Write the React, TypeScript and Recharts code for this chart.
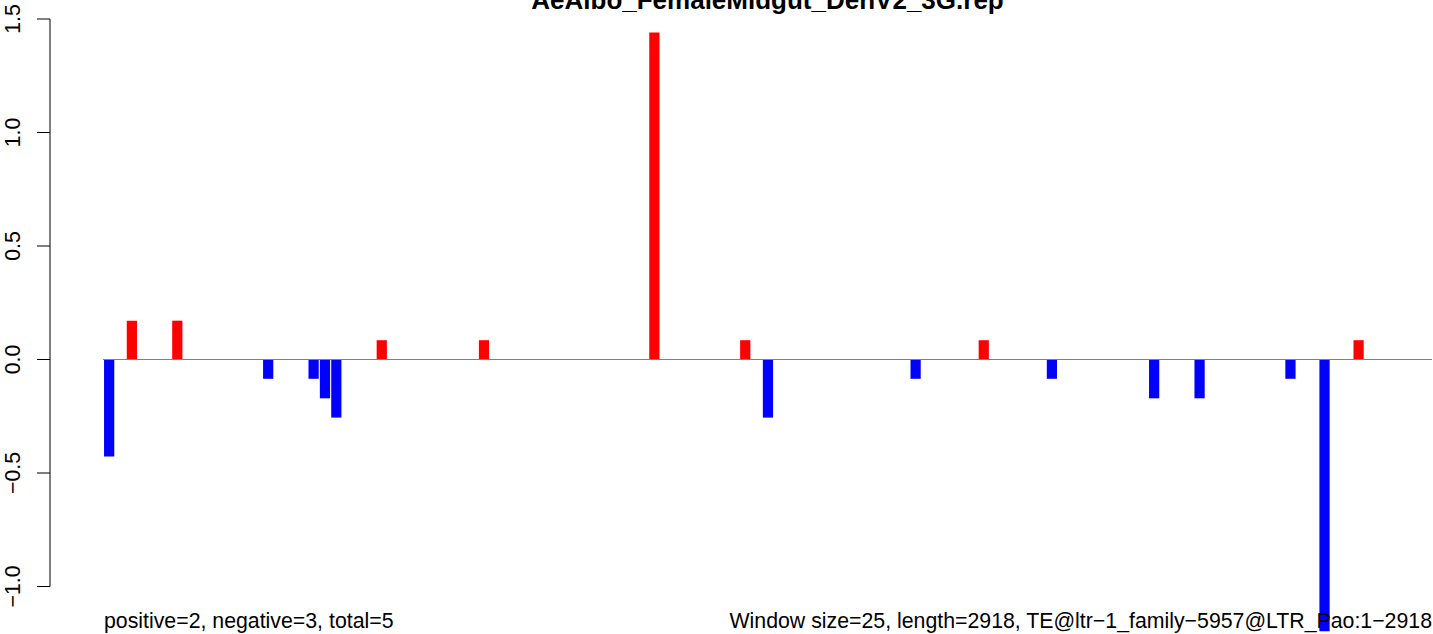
import { BarChart, Bar, XAxis, YAxis, ReferenceLine, Cell } from "recharts";

// sliding-window counts, 25bp windows over a 2918bp TE
const TITLE = "AeAlbo_FemaleMidgut_DenV2_3G.rep";
const NOTE_LEFT = "positive=2, negative=3, total=5";
const NOTE_RIGHT = "Window size=25, length=2918, TE@ltr\u22121_family\u22125957@LTR_Pao:1\u22122918";

const WINDOW_BINS = [0, 2, 6, 14, 18, 19, 20, 24, 33, 48, 56, 58, 71, 77, 83, 92, 96, 104, 107, 110];
const WINDOW_VALUES = [
  -0.427, 0.171, 0.171, -0.085, -0.085, -0.171, -0.256, 0.085, 0.085, 1.44,
  0.085, -0.256, -0.085, 0.085, -0.085, -0.171, -0.171, -0.085, -1.197, 0.085,
];
const Y_TICKS = [-1, -0.5, 0, 0.5, 1, 1.5];

const W = 1433;
const H = 634;
const X_DOMAIN: [number, number] = [-5.17, 116.5];
const Y_DOMAIN: [number, number] = [-1.2, 1.55];
const FONT = "'Liberation Sans', Arial, Helvetica, sans-serif";

const fmt = (v: number) => v.toFixed(1).replace("-", "\u2212");

const renderTick = (props: any) => {
  const { x, y, payload } = props;
  return (
    <text
      x={0}
      y={0}
      transform={`translate(${x - 15},${y}) rotate(-90)`}
      textAnchor="middle"
      fontSize={21.3}
      fontFamily={FONT}
      fill="#000"
    >
      {fmt(payload.value)}
    </text>
  );
};

export default function App() {
  const data = WINDOW_BINS.map((bin, i) => ({ bin, value: WINDOW_VALUES[i] }));

  return (
    <div style={{ position: "absolute", left: 0, top: 0, width: W, height: H, background: "#fff" }}>
      <BarChart
        width={W}
        height={H}
        data={data}
        margin={{ top: 7.65, right: 1, bottom: 2.1, left: 0 }}
        barSize={12}
      >
        <XAxis type="number" dataKey="bin" domain={X_DOMAIN} hide allowDataOverflow />
        <YAxis
          type="number"
          domain={Y_DOMAIN}
          ticks={Y_TICKS}
          interval={0}
          width={50}
          axisLine={false}
          tickSize={13}
          tickLine={{ stroke: "#000" }}
          tick={renderTick}
          allowDataOverflow
        />
        <Bar dataKey="value" isAnimationActive={false}>
          {data.map((d, i) => (
            <Cell key={`cell-${i}`} fill={d.value >= 0 ? "#ff0000" : "#0000ff"} />
          ))}
        </Bar>
        {/* zero baseline across the windows */}
        <ReferenceLine segment={[{ x: -0.5, y: 0 }, { x: 116.5, y: 0 }]} stroke="#808080" />
        {/* R-style axis line, only between first and last tick */}
        <ReferenceLine segment={[{ x: X_DOMAIN[0], y: -1 }, { x: X_DOMAIN[0], y: 1.5 }]} stroke="#000" />
      </BarChart>
      <svg
        width={W}
        height={H}
        style={{ position: "absolute", left: 0, top: 0, pointerEvents: "none" }}
        fontFamily={FONT}
      >
        <text x={767.5} y={9} textAnchor="middle" fontSize={26} fontWeight="bold" fill="#000">
          {TITLE}
        </text>
        <text x={104} y={628} fontSize={21.3} fill="#000">
          {NOTE_LEFT}
        </text>
        <text x={1432} y={628} textAnchor="end" fontSize={21.3} fill="#000">
          {NOTE_RIGHT}
        </text>
      </svg>
    </div>
  );
}
